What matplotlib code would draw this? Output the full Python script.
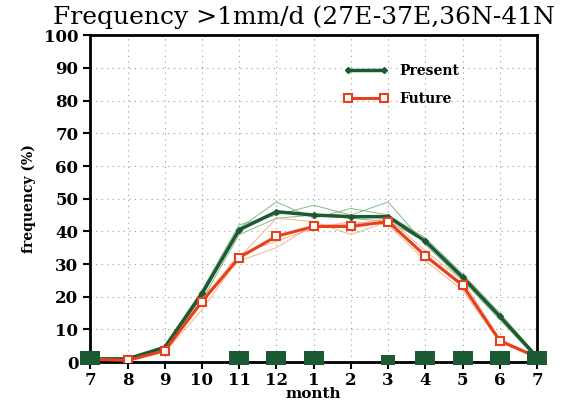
import numpy as np
import matplotlib.pyplot as plt

# month axis, July to July
months = ["7", "8", "9", "10", "11", "12", "1", "2", "3", "4", "5", "6", "7"]
present = [1, 1, 4.5, 21, 40.5, 46, 45, 44.5, 44.5, 37, 26, 14, 1.5]
future = [1, 0.5, 3.5, 18.5, 32, 38.5, 41.5, 41.5, 43, 32.5, 23.5, 6.5, 1.5]

# ensemble members (thin lines)
present_members = [
    [1, 1, 4, 20, 41, 49, 44, 47, 45, 38, 27, 15, 2],
    [1, 1, 5, 22, 42, 45, 48, 45, 49, 36, 25, 13, 1],
    [1, 1, 4, 19, 39, 44, 45, 44, 43, 37, 26, 14, 1],
]
future_members = [
    [1, 0.5, 3, 16, 32, 44, 43, 39, 43, 33, 24, 7, 1],
    [1, 0.5, 4, 19, 33, 37, 41, 43, 42, 31, 22, 6, 1.5],
    [1, 0.5, 3.5, 20, 31, 35, 42, 42, 44, 34, 25, 7, 2],
]

# significance boxes along the bottom (size per month, 0 = none)
sig_size = [1, 0, 0, 0, 1, 1, 1, 0, 0.5, 1, 1, 1, 1]

green = "#1c5a34"
red = "#e8401c"

x = np.arange(len(months))

fig = plt.figure(figsize=(5.75, 4.01), dpi=100)
ax = fig.add_axes([0.157, 0.097, 0.777, 0.815])

for m in present_members:
    ax.plot(x, m, color="#6aa86a", lw=0.7, alpha=0.8)
for m in future_members:
    ax.plot(x, m, color="#f5a070", lw=0.7, alpha=0.8)

ax.plot(x, present, color=green, lw=2.5, marker="D", ms=3, zorder=4, label="Present")
ax.plot(x, future, color=red, lw=2.2, marker="s", ms=5.5, mfc="white",
        mec=red, mew=1.5, zorder=5, label="Future")

box = [(-1.4, -1), (1.4, -1), (1.4, 1), (-1.4, 1), (-1.4, -1)]
for xi, s in zip(x, sig_size):
    if s > 0:
        ax.scatter(xi, 1.4 * s, marker=box, s=220 * s, color=green, zorder=6,
                   clip_on=False, linewidths=0)

ax.set_xlim(0, 12)
ax.set_ylim(0, 100)
ax.set_xticks(x)
ax.set_xticklabels(months)
ax.set_yticks(np.arange(0, 101, 10))
ax.grid(True, ls=(0, (1, 4)), color="#999999", lw=0.8)
ax.tick_params(direction="out", width=1.5, length=5, labelsize=12)
ax.tick_params(axis="x", pad=2)
for lab in ax.get_xticklabels() + ax.get_yticklabels():
    lab.set_fontweight("bold")
    lab.set_family("DejaVu Serif")
for sp in ax.spines.values():
    sp.set_linewidth(2)

ax.set_xlabel("month", family="DejaVu Serif", fontweight="bold", fontsize=11, labelpad=-1)
ax.set_ylabel("frequency (%)", family="DejaVu Serif", fontweight="bold", fontsize=10,
              labelpad=6)

ax.legend(loc="upper left", bbox_to_anchor=(0.54, 0.95), frameon=False,
          prop={"family": "DejaVu Serif", "weight": "bold", "size": 10},
          handlelength=3.2, labelspacing=1.0, numpoints=2)

fig.text(0.092, 0.94, "Frequency >1mm/d (27E-37E,36N-41N", family="DejaVu Serif",
         fontsize=18)

fig.savefig("out.png", dpi=100)
